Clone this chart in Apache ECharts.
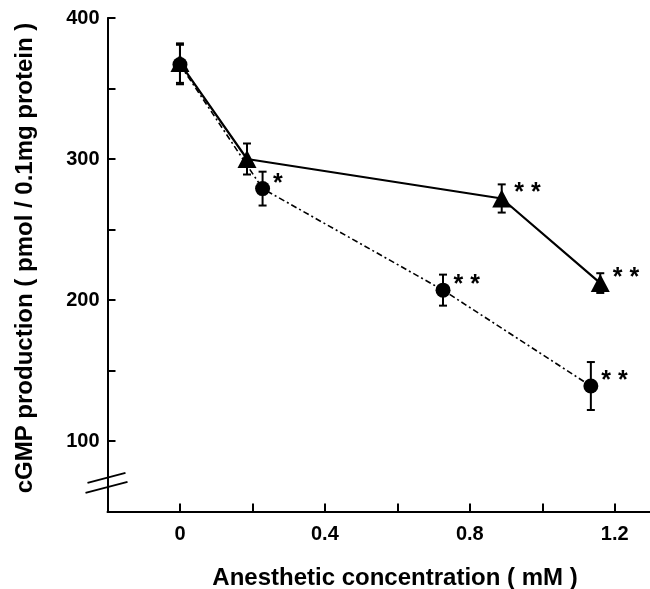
<!DOCTYPE html>
<html>
<head>
<meta charset="UTF-8">
<title>cGMP production</title>
<script src="https://cdn.jsdelivr.net/npm/echarts@6/dist/echarts.min.js"></script>
<style>
html,body{margin:0;padding:0;background:#fff;}
#main{width:650px;height:589px;}
</style>
</head>
<body>
<div id="main"></div>
<script>
// triangles (solid line)
var triX = [0, 0.185, 0.888, 1.16];
var triY = [368, 300, 272, 212];
var triErr = [14, 11, 10, 7];
var triSig = ['', '', '* *', '* *'];
// circles (dash-dot line)
var cirX = [0, 0.228, 0.726, 1.134];
var cirY = [367, 279, 207, 139];
var cirErr = [14, 12, 11, 17];
var cirSig = ['', '*', '* *', '* *'];
// labelled ticks
var xTicks = [0, 0.4, 0.8, 1.2];
var yTicks = [100, 200, 300, 400];

var font = '"Liberation Sans", Arial, Helvetica, sans-serif';

function pts(xs, ys){
	var out = [];
	for(var i=0;i<xs.length;i++){ out.push([xs[i], ys[i]]); }
	return out;
}
function errs(xs, ys, es){
	var out = [];
	for(var i=0;i<xs.length;i++){ out.push([xs[i], ys[i]-es[i], ys[i]+es[i]]); }
	return out;
}
function inList(v, list){
	for(var i=0;i<list.length;i++){ if(Math.abs(v-list[i])<1e-6) return true; }
	return false;
}
function errRender(params, api){
	var x = api.value(0);
	var p1 = api.coord([x, api.value(2)]);
	var p2 = api.coord([x, api.value(1)]);
	var w = 4;
	var st = {stroke:'#000', lineWidth:2};
	return {type:'group', children:[
		{type:'line', shape:{x1:p1[0], y1:p1[1], x2:p2[0], y2:p2[1]}, style:st},
		{type:'line', shape:{x1:p1[0]-w, y1:p1[1], x2:p1[0]+w, y2:p1[1]}, style:st},
		{type:'line', shape:{x1:p2[0]-w, y1:p2[1], x2:p2[0]+w, y2:p2[1]}, style:st}
	]};
}
function sigLabel(sig){
	return {
		show:true, position:'right', distance:3, offset:[0,-5],
		color:'#000', fontSize:25, fontWeight:'bold', fontFamily:font,
		formatter:function(p){ return sig[p.dataIndex]; }
	};
}

var myChart = echarts.init(document.getElementById('main'));
var option = {
	backgroundColor:'#fff',
	animation:false,
	grid:{left:107.5, right:-1, top:18, bottom:77.5, outerBoundsMode:'none'},
	xAxis:{
		type:'value', min:-0.2, max:1.3, interval:0.2,
		splitLine:{show:false},
		axisLine:{onZero:false, lineStyle:{color:'#000', width:2}},
		axisTick:{inside:true, length:8, lineStyle:{color:'#000', width:2}},
		axisLabel:{
			margin:13, color:'#000', fontSize:20, fontWeight:'bold', fontFamily:font,
			showMinLabel:true, showMaxLabel:true,
			formatter:function(v){ return inList(v, xTicks) ? String(Math.round(v*10)/10) : ''; }
		}
	},
	yAxis:{
		type:'value', min:50, max:400, interval:50,
		splitLine:{show:false},
		axisLine:{onZero:false, lineStyle:{color:'#000', width:2}},
		axisTick:{inside:true, length:8, lineStyle:{color:'#000', width:2}},
		axisLabel:{
			margin:8, color:'#000', fontSize:20, fontWeight:'bold', fontFamily:font,
			formatter:function(v){ return inList(v, yTicks) ? String(v) : ''; }
		}
	},
	series:[
		{
			type:'custom', renderItem:errRender, data:errs(cirX, cirY, cirErr),
			encode:{x:0, y:[1,2]}, z:2, silent:true
		},
		{
			type:'line', data:pts(cirX, cirY), symbol:'circle', symbolSize:15,
			itemStyle:{color:'#000'},
			lineStyle:{color:'#000', width:1.6, type:[6,3,2,3]},
			label:sigLabel(cirSig), z:3
		},
		{
			type:'custom', renderItem:errRender, data:errs(triX, triY, triErr),
			encode:{x:0, y:[1,2]}, z:4, silent:true
		},
		{
			type:'line', data:pts(triX, triY), symbol:'triangle', symbolSize:[19,18],
			itemStyle:{color:'#000'},
			lineStyle:{color:'#000', width:2.2, type:'solid'},
			label:sigLabel(triSig), z:5
		}
	]
};
myChart.setOption(option);

// titles and the axis break marks on the y axis
var b = myChart.convertToPixel({gridIndex:0}, [-0.2, 71]);
var lineSt = {stroke:'#000', lineWidth:2};
myChart.setOption({graphic:[
	{
		type:'text', x:395, y:578,
		style:{text:'Anesthetic concentration ( mM )', fill:'#000',
			fontSize:24, fontWeight:'bold', fontFamily:font, align:'center', verticalAlign:'middle'}
	},
	{
		type:'text', x:25, y:258, rotation:Math.PI/2,
		style:{text:'cGMP production ( pmol / 0.1mg protein )', fill:'#000',
			fontSize:24, fontWeight:'bold', fontFamily:font, align:'center', verticalAlign:'middle'}
	},
	{type:'line', shape:{x1:b[0]-20, y1:b[1]+1, x2:b[0]+18, y2:b[1]-9}, style:lineSt},
	{type:'line', shape:{x1:b[0]-22, y1:b[1]+11, x2:b[0]+20, y2:b[1]}, style:lineSt}
]});
</script>
</body>
</html>
